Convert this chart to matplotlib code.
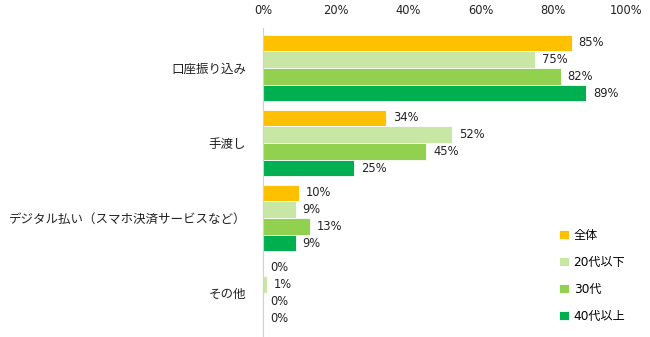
import numpy as np
import matplotlib.pyplot as plt

# Latin digits in DejaVu, Japanese in Noto CJK
plt.rcParams['font.family'] = ['DejaVu Sans', 'Noto Sans CJK JP']

# survey answers by age group (%)
categories = ["口座振り込み", "手渡し", "デジタル払い（スマホ決済サービスなど）", "その他"]
series_names = ["全体", "20代以下", "30代", "40代以上"]
zentai = [85, 34, 10, 0]
age_20s = [75, 52, 9, 1]
age_30s = [82, 45, 13, 0]
age_40s = [89, 25, 9, 0]
colors = ["#FFC000", "#C8E6A4", "#92D050", "#00B050"]

values = [zentai, age_20s, age_30s, age_40s]

fig = plt.figure(figsize=(6.5, 3.37), dpi=100)
ax = fig.add_axes([263 / 650, 0, (626 - 263) / 650, 1 - 28 / 337])

y = np.arange(len(categories))
h = 0.223
for i, (name, vals, c) in enumerate(zip(series_names, values, colors)):
    pos = y + (i - 1.5) * h
    bars = ax.barh(pos, vals, height=h, color=c, edgecolor="white",
                   linewidth=0.6, label=name)
    for b, v in zip(bars, vals):
        ax.annotate(f"{v}%", (b.get_width(), b.get_y() + b.get_height() / 2),
                    xytext=(5, 0), textcoords="offset points",
                    va="center", ha="left", fontsize=8.3, color="#222222")

ax.set_xlim(0, 100)
ax.set_ylim(3.587, -0.533)
ax.set_xticks(range(0, 101, 20))
ax.set_xticklabels([f"{t}%" for t in range(0, 101, 20)])
ax.xaxis.tick_top()
ax.set_yticks(y)
ax.set_yticklabels(categories)
ax.tick_params(axis="both", length=0, labelsize=9, colors="#222222")
ax.tick_params(axis="x", labelsize=8.3, pad=8)
ax.tick_params(axis="y", pad=12)
for s in ["top", "right", "bottom"]:
    ax.spines[s].set_visible(False)
ax.spines["left"].set_color("#D0D0D0")
ax.spines["left"].set_linewidth(0.8)

fig.legend(loc="upper left", bbox_to_anchor=(553 / 650, 1 - 223 / 337),
           frameon=False, fontsize=8.7, handlelength=0.8, handleheight=0.8,
           handletextpad=0.4, labelspacing=1.15, borderpad=0)

fig.savefig("out.png", dpi=100)
